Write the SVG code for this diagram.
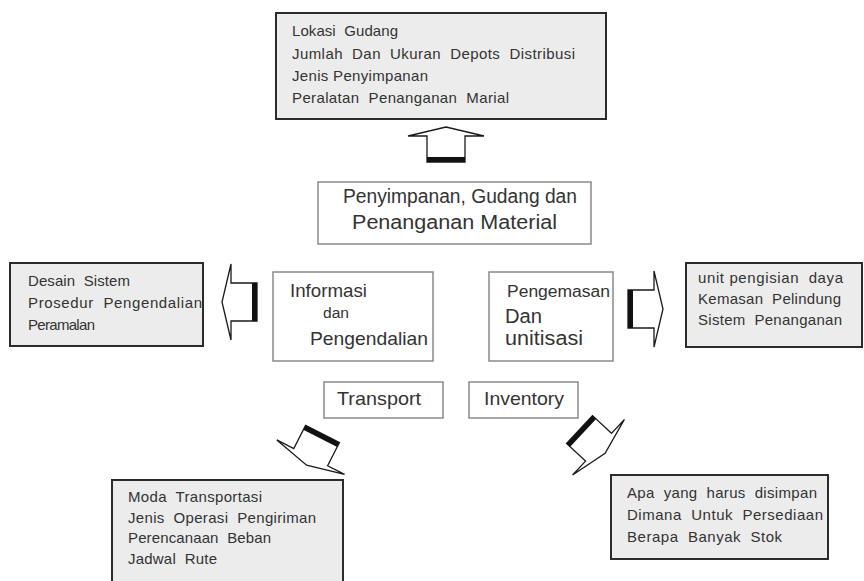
<svg xmlns="http://www.w3.org/2000/svg" xmlns:xlink="http://www.w3.org/1999/xlink" width="864" height="581" viewBox="0 0 864 581">
  <style>
    .detail { fill: #ececec; stroke: #2b2b2b; stroke-width: 2; }
    .core { fill: #ffffff; stroke: #8a8a8a; stroke-width: 1.5; }
    .t { font-family: "Liberation Sans", Arial, sans-serif; fill: #333333; }
    .s { font-size: 15px; white-space: pre; }
    .arrowBody { fill: #ffffff; stroke: #1a1a1a; stroke-width: 1.3; stroke-linejoin: miter; }
    .arrowTail { fill: #111111; }
  </style>
  <defs>
    <!-- block arrow pointing down (+y), origin at the centre of its heavy tail edge -->
    <g id="blockArrow">
      <path class="arrowBody" d="M -19,0 L 19,0 L 19,26 L 38,26 L 0,35 L -38,26 L -19,26 Z"/>
      <rect class="arrowTail" x="-19" y="0" width="38" height="5"/>
    </g>
  </defs>

  <rect width="864" height="581" fill="#ffffff"/>

  <!-- centre blocks -->
  <g id="penyimpanan">
    <rect class="core" x="318" y="182" width="273" height="62"/>
    <text class="t" font-size="20" x="343" y="203" textLength="234" lengthAdjust="spacingAndGlyphs">Penyimpanan, Gudang dan</text>
    <text class="t" font-size="20" x="352" y="229" textLength="205" lengthAdjust="spacingAndGlyphs">Penanganan Material</text>
  </g>

  <g id="informasi">
    <rect class="core" x="273" y="272" width="160" height="89"/>
    <text class="t" font-size="19" x="290" y="297" textLength="77" lengthAdjust="spacingAndGlyphs">Informasi</text>
    <text class="t" font-size="14" x="323" y="318" textLength="26" lengthAdjust="spacingAndGlyphs">dan</text>
    <text class="t" font-size="19" x="310" y="345" textLength="118" lengthAdjust="spacingAndGlyphs">Pengendalian</text>
  </g>

  <g id="pengemasan">
    <rect class="core" x="489" y="272" width="124" height="89"/>
    <text class="t" font-size="16" x="507" y="297" textLength="103" lengthAdjust="spacingAndGlyphs">Pengemasan</text>
    <text class="t" font-size="20" x="505" y="323" textLength="37" lengthAdjust="spacingAndGlyphs">Dan</text>
    <text class="t" font-size="20" x="505" y="345" textLength="78" lengthAdjust="spacingAndGlyphs">unitisasi</text>
  </g>

  <g id="transport">
    <rect class="core" x="324" y="382" width="119" height="36"/>
    <text class="t" font-size="19" x="337" y="405" textLength="84" lengthAdjust="spacingAndGlyphs">Transport</text>
  </g>

  <g id="inventory">
    <rect class="core" x="469" y="382" width="109" height="36"/>
    <text class="t" font-size="19" x="484" y="405" textLength="80" lengthAdjust="spacingAndGlyphs">Inventory</text>
  </g>

  <!-- detail lists -->
  <g id="gudang-detail">
    <rect class="detail" x="276" y="13" width="330" height="106"/>
    <text class="t s" x="292" y="36" textLength="106" lengthAdjust="spacing">Lokasi  Gudang</text>
    <text class="t s" x="292" y="59" textLength="283" lengthAdjust="spacing">Jumlah  Dan  Ukuran  Depots  Distribusi</text>
    <text class="t s" x="292" y="81" textLength="136" lengthAdjust="spacing">Jenis Penyimpanan</text>
    <text class="t s" x="292" y="103" textLength="217" lengthAdjust="spacing">Peralatan  Penanganan  Marial</text>
  </g>

  <g id="informasi-detail">
    <rect class="detail" x="10" y="263" width="193" height="83"/>
    <text class="t s" x="28" y="286" textLength="102" lengthAdjust="spacing">Desain  Sistem</text>
    <text class="t s" x="28" y="308" textLength="174" lengthAdjust="spacing">Prosedur  Pengendalian</text>
    <text class="t s" x="28" y="330" textLength="67" lengthAdjust="spacing">Peramalan</text>
  </g>

  <g id="pengemasan-detail">
    <rect class="detail" x="686" y="263" width="176" height="84"/>
    <text class="t s" x="698" y="283" textLength="145" lengthAdjust="spacing">unit pengisian  daya</text>
    <text class="t s" x="698" y="304" textLength="143" lengthAdjust="spacing">Kemasan  Pelindung</text>
    <text class="t s" x="698" y="325" textLength="144" lengthAdjust="spacing">Sistem  Penanganan</text>
  </g>

  <g id="transport-detail">
    <rect class="detail" x="112" y="480" width="231" height="112"/>
    <text class="t s" x="128" y="502" textLength="134" lengthAdjust="spacing">Moda  Transportasi</text>
    <text class="t s" x="128" y="523" textLength="188" lengthAdjust="spacing">Jenis  Operasi  Pengiriman</text>
    <text class="t s" x="128" y="543" textLength="143" lengthAdjust="spacing">Perencanaan  Beban</text>
    <text class="t s" x="128" y="564" textLength="89" lengthAdjust="spacing">Jadwal  Rute</text>
  </g>

  <g id="inventory-detail">
    <rect class="detail" x="611" y="475" width="217" height="84"/>
    <text class="t s" x="627" y="498" textLength="190" lengthAdjust="spacing">Apa  yang  harus  disimpan</text>
    <text class="t s" x="627" y="520" textLength="196" lengthAdjust="spacing">Dimana  Untuk  Persediaan</text>
    <text class="t s" x="627" y="542" textLength="155" lengthAdjust="spacing">Berapa  Banyak  Stok</text>
  </g>

  <!-- block arrows from each centre block to its detail list -->
  <g id="connectors">
    <use xlink:href="#blockArrow" href="#blockArrow" transform="translate(446,162) rotate(180)"/>
    <use xlink:href="#blockArrow" href="#blockArrow" transform="translate(257,302) rotate(90)"/>
    <use xlink:href="#blockArrow" href="#blockArrow" transform="translate(628,309) rotate(-90)"/>
    <use xlink:href="#blockArrow" href="#blockArrow" transform="translate(322.5,434) rotate(27)"/>
    <use xlink:href="#blockArrow" href="#blockArrow" transform="translate(579.5,429.5) rotate(-47)"/>
  </g>
</svg>
